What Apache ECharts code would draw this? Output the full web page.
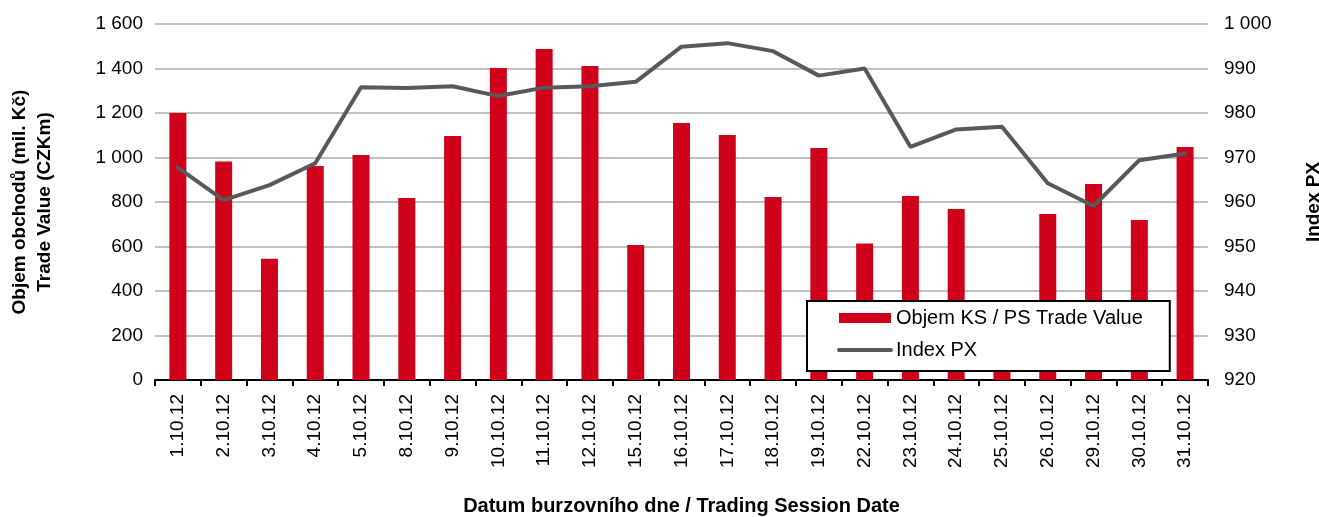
<!DOCTYPE html>
<html>
<head>
<meta charset="utf-8">
<script src="https://cdn.jsdelivr.net/npm/echarts@6/dist/echarts.min.js"></script>
<style>
  html, body { margin: 0; padding: 0; background: #fff; }
  #chart { width: 1319px; height: 517px; }
</style>
</head>
<body>
<div id="chart"></div>
<script>
// trading days, October 2012
var dates = ['1.10.12','2.10.12','3.10.12','4.10.12','5.10.12','8.10.12','9.10.12','10.10.12',
  '11.10.12','12.10.12','15.10.12','16.10.12','17.10.12','18.10.12','19.10.12','22.10.12',
  '23.10.12','24.10.12','25.10.12','26.10.12','29.10.12','30.10.12','31.10.12'];
// objem obchodu, mil. Kc
var tradeValue = [1200, 982, 545, 962, 1011, 818, 1097, 1402, 1488, 1411, 607, 1155,
  1101, 822, 1043, 614, 827, 769, 320, 746, 881, 719, 1047];
// index PX
var indexPX = [967.7, 960.4, 963.8, 968.7, 985.8, 985.6, 986.0, 983.8, 985.7, 986.0, 987.0,
  994.9, 995.7, 993.9, 988.4, 990.0, 972.4, 976.3, 976.9, 964.2, 959.1, 969.4, 970.9];

var fnt = 'Liberation Sans, Arial, sans-serif';
function spaced(v) {
  return String(v).replace(/\B(?=(\d{3})+(?!\d))/g, ' ');
}

var chart = echarts.init(document.getElementById('chart'));
var option = {
  animation: false,
  textStyle: { fontFamily: fnt },
  grid: { left: 155, right: 111, top: 24, bottom: 137, containLabel: false, outerBoundsMode: 'none' },
  legend: {
    orient: 'vertical',
    left: 807, top: 301,
    padding: [7, 27, 11, 30],
    itemGap: 12,
    itemWidth: 52, itemHeight: 10,
    borderColor: '#000', borderWidth: 2,
    backgroundColor: '#fff',
    textStyle: { fontSize: 20, color: '#000', fontFamily: fnt },
    data: [
      { name: 'Objem KS / PS Trade Value', icon: 'rect' },
      { name: 'Index PX', itemStyle: { opacity: 0 }, lineStyle: { width: 4, cap: 'round' } }
    ]
  },
  xAxis: {
    type: 'category',
    data: dates,
    name: 'Datum burzovního dne / Trading Session Date',
    nameLocation: 'middle',
    nameGap: 116,
    nameTextStyle: { fontSize: 20, fontWeight: 'bold', color: '#000' },
    axisLine: { lineStyle: { color: '#000', width: 2 } },
    axisTick: { show: true, length: 6, lineStyle: { color: '#000', width: 2 } },
    axisLabel: { rotate: 90, fontSize: 19, color: '#000', margin: 14 }
  },
  yAxis: [
    {
      type: 'value',
      min: 0, max: 1600, interval: 200,
      name: 'Objem obchodů (mil. Kč)\nTrade Value (CZKm)',
      nameLocation: 'middle',
      nameRotate: 90,
      nameGap: 98,
      nameTextStyle: { fontSize: 19, fontWeight: 'bold', color: '#000', lineHeight: 25 },
      axisLine: { show: false },
      axisTick: { show: false },
      axisLabel: { fontSize: 19, color: '#000', margin: 12, formatter: spaced },
      splitLine: { lineStyle: { color: '#c0c0c0', width: 2 } }
    },
    {
      type: 'value',
      min: 920, max: 1000, interval: 10,
      name: 'Index PX',
      nameLocation: 'middle',
      nameRotate: 90,
      nameGap: 96,
      nameTextStyle: { fontSize: 19, fontWeight: 'bold', color: '#000' },
      axisLine: { show: false },
      axisTick: { show: false },
      axisLabel: { fontSize: 19, color: '#000', margin: 16, formatter: spaced },
      splitLine: { show: false }
    }
  ],
  series: [
    {
      name: 'Objem KS / PS Trade Value',
      type: 'bar',
      data: tradeValue,
      barWidth: 17,
      itemStyle: { color: '#d0021b' }
    },
    {
      name: 'Index PX',
      type: 'line',
      yAxisIndex: 1,
      data: indexPX,
      symbol: 'none',
      showSymbol: false,
      lineStyle: { color: '#595959', width: 4, cap: 'round' },
      itemStyle: { color: '#595959' }
    }
  ]
};
chart.setOption(option);
</script>
</body>
</html>
